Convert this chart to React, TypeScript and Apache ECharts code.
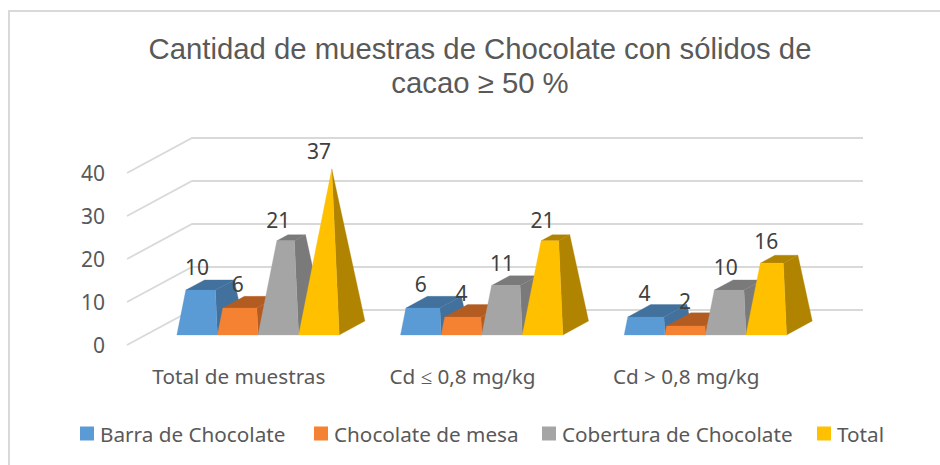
import React, { useEffect, useRef } from "react";
import * as echarts from "echarts";

const titleText = "Cantidad de muestras de Chocolate con sólidos de\ncacao ≥ 50 %";
const categories = ["Total de muestras", "Cd ≤ 0,8 mg/kg", "Cd > 0,8 mg/kg"];
const barra = [10, 6, 4];
const mesa = [6, 4, 2];
const cobertura = [21, 11, 10];
const total = [37, 21, 16];
const seriesNames = ["Barra de Chocolate", "Chocolate de mesa", "Cobertura de Chocolate", "Total"];
const seriesValues = [barra, mesa, cobertura, total];
const frontColors = ["#5B9BD5", "#F58233", "#A5A5A5", "#FFC000"];
const darkColors = ["#41719C", "#B35C22", "#7A7A7A", "#B08400"];
const legendLefts = [75, 309, 537, 812];
const yTicks = [0, 10, 20, 30, 40];
const pyramidMax = 37;

const wallDx = 65;
const wallDy = -35;
const depthDx = 25.7;
const depthDy = -14;
const baseInsetX = 19.2;
const baseInsetY = -10;
const barWidth = 40.6;

function App() {
  const ref = useRef<HTMLDivElement>(null);
  useEffect(() => {
    const chart = echarts.init(ref.current!, undefined, { renderer: "svg" });

    const wallSeries = {
      type: "custom",
      name: "wall",
      silent: true,
      data: yTicks.map((t) => [0, t]),
      encode: { x: 0, y: 1 },
      renderItem: (params: any, api: any) => {
        const cs = params.coordSys;
        const y = api.coord([0, api.value(1)])[1];
        return {
          type: "polyline",
          shape: {
            points: [
              [cs.x, y],
              [cs.x + wallDx, y + wallDy],
              [cs.x + cs.width + wallDx, y + wallDy],
            ],
          },
          style: { stroke: "#D9D9D9", lineWidth: 1.8, fill: "none" },
        };
      },
    };

    const barSeries = seriesNames.map((name, si) => ({
      type: "custom",
      name,
      silent: true,
      itemStyle: { color: frontColors[si] },
      data: seriesValues[si].map((v, i) => [i, v]),
      encode: { x: 0, y: 1 },
      renderItem: (_params: any, api: any) => {
        const c = api.value(0);
        const v = api.value(1);
        const [cx, y0] = api.coord([c, 0]);
        const unit = y0 - api.coord([c, 1])[1];
        const x0 = cx + baseInsetX + (si - 2) * barWidth;
        const yb = y0 + baseInsetY;
        const apexX = x0 + barWidth / 2 + depthDx / 2;
        const apexY = yb + depthDy / 2 - pyramidMax * unit;
        const f = v / pyramidMax;
        const up = (p: number[]) => [p[0] + (apexX - p[0]) * f, p[1] + (apexY - p[1]) * f];
        const fl = [x0, yb];
        const fr = [x0 + barWidth, yb];
        const br = [x0 + barWidth + depthDx, yb + depthDy];
        const bl = [x0 + depthDx, yb + depthDy];
        const tfl = up(fl);
        const tfr = up(fr);
        const tbr = up(br);
        const tbl = up(bl);
        const poly = (points: number[][], fill: string) => ({
          type: "polygon",
          shape: { points },
          style: { fill, stroke: fill, lineWidth: 0.3 },
        });
        return {
          type: "group",
          children: [
            poly([fr, br, tbr, tfr], darkColors[si]),
            poly([tfl, tfr, tbr, tbl], darkColors[si]),
            poly([fl, fr, tfr, tfl], frontColors[si]),
            {
              type: "text",
              z2: 100,
              style: {
                text: String(v),
                x: x0 + barWidth / 2,
                y: yb + depthDy / 2 - v * unit - 18,
                align: "center",
                verticalAlign: "middle",
                fontFamily: "'Noto Sans'",
                fontSize: 21,
                fill: "#404040",
              },
            },
          ],
        };
      },
    }));

    chart.setOption({
      animation: false,
      backgroundColor: "#FFFFFF",
      title: {
        text: titleText,
        left: 475,
        top: 26,
        textAlign: "center",
        textStyle: {
          fontFamily: "'Liberation Sans'",
          fontSize: 29.3,
          fontWeight: "normal",
          color: "#595959",
          lineHeight: 34,
        },
      },
      legend: seriesNames.map((name, i) => ({
        data: [name],
        left: legendLefts[i],
        top: 418,
        itemWidth: 14,
        itemHeight: 14,
        icon: "rect",
        selectedMode: false,
        textStyle: { fontFamily: "'Noto Sans'", fontSize: 20.7, color: "#595959", padding: [0, 0, 0, 1] },
      })),
      grid: { left: 127, right: 142, top: 173, height: 172 },
      xAxis: {
        type: "category",
        data: categories,
        axisLine: { show: false },
        axisTick: { show: false },
        axisLabel: { fontFamily: "'Noto Sans'", fontSize: 20.7, color: "#595959", margin: 20, interval: 0 },
      },
      yAxis: {
        type: "value",
        min: 0,
        max: 40,
        interval: 10,
        axisLine: { show: false },
        axisTick: { show: false },
        splitLine: { show: false },
        axisLabel: { fontFamily: "'Noto Sans'", fontSize: 21, color: "#595959", margin: 22 },
      },
      graphic: [
        {
          type: "polyline",
          silent: true,
          z: -1,
          shape: { points: [[9, 465], [9, 11], [940, 11]] },
          style: { fill: "none", stroke: "#D9D9D9", lineWidth: 2 },
        },
      ],
      series: [wallSeries, ...barSeries],
    });

    return () => chart.dispose();
  }, []);

  return <div ref={ref} style={{ position: "fixed", left: 0, top: 0, width: 940, height: 465 }} />;
}

export default App;
